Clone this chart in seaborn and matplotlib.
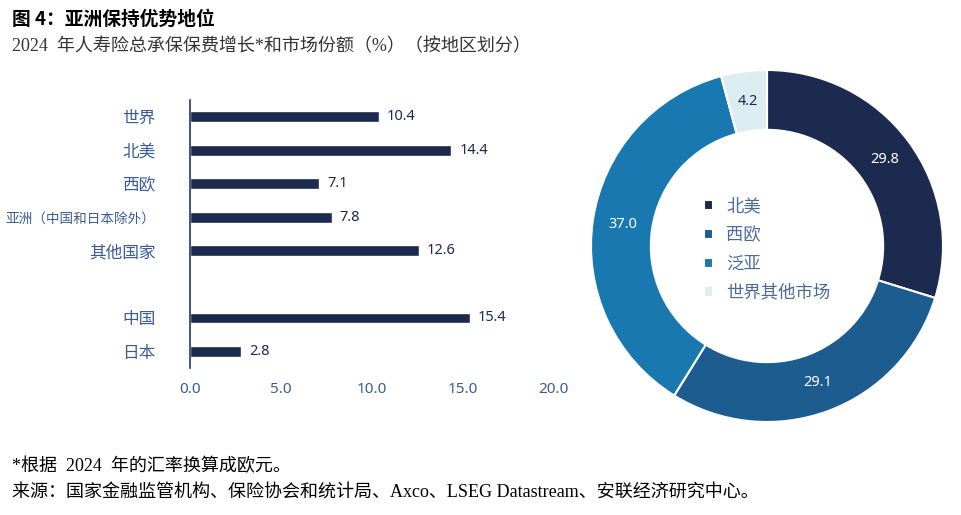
import numpy as np
import pandas as pd
import matplotlib.pyplot as plt
import seaborn as sns

# data
regions = ['世界', '北美', '西欧', '亚洲（中国和日本除外）', '其他国家', '中国', '日本']
growth = [10.4, 14.4, 7.1, 7.8, 12.6, 15.4, 2.8]
share_labels = ['北美', '西欧', '泛亚', '世界其他市场']
share = [29.8, 29.1, 37.0, 4.2]

navy = '#1b2a4e'
share_colors = ['#1b2a4e', '#1d5c8f', '#1a78b0', '#dcedf2']
label_blue = '#3b5c92'

sns.set_theme(style='white')
plt.rcParams['font.family'] = ['Noto Sans CJK SC', 'DejaVu Sans']
plt.rcParams['axes.unicode_minus'] = False

fig = plt.figure(figsize=(9.62, 5.15), dpi=100)

# ---- bar chart ----
ax = fig.add_axes([0.1975, 0.285, 0.3775, 0.521])
df = pd.DataFrame({'region': regions, 'growth': growth})
order = regions[:5] + [' '] + regions[5:]  # blank slot between groups
sns.barplot(data=df, x='growth', y='region', order=order, orient='h',
            color=navy, width=0.32, saturation=1, ax=ax)
for i, r in enumerate(order):
    if r in regions:
        v = growth[regions.index(r)]
        ax.text(v + 0.45, i, f'{v:.1f}', va='center', ha='left',
                fontsize=10.5, color=navy, family=['Noto Sans', 'DejaVu Sans'])
ax.set_xlim(0, 20)
ax.set_xticks(np.arange(0, 21, 5))
ax.set_xticklabels([f'{t:.1f}' for t in np.arange(0, 21, 5)],
                   family=['Noto Sans', 'DejaVu Sans'])
ax.set_xlabel('')
ax.set_ylabel('')
for s in ['top', 'right', 'bottom']:
    ax.spines[s].set_visible(False)
ax.spines['left'].set_color('#1f3a6a')
ax.spines['left'].set_linewidth(1.2)
ax.tick_params(axis='y', length=0, pad=25, labelsize=12, labelcolor=label_blue)
ax.tick_params(axis='x', length=0, pad=10, labelsize=11, labelcolor=label_blue)
# the long label is a little smaller so it stays on the canvas
for lab in ax.get_yticklabels():
    if len(lab.get_text()) > 6:
        lab.set_fontsize(9.8)

# ---- donut ----
ax2 = fig.add_axes([0.6143, 0.1806, 0.366, 0.6835])
wedges, texts, autotexts = ax2.pie(
    share, colors=share_colors, startangle=90, counterclock=False,
    wedgeprops=dict(width=0.34, edgecolor='white', linewidth=1.5),
    autopct=lambda p: '', pctdistance=0.83)
for t, v, c in zip(autotexts, share, ['white', 'white', 'white', navy]):
    t.set_text(f'{v:.1f}')
    t.set_color(c)
    t.set_fontsize(10.5)
    t.set_family(['Noto Sans', 'DejaVu Sans'])
ax2.set_xlim(-1, 1)
ax2.set_ylim(-1, 1)
leg = ax2.legend(wedges, share_labels, loc='center', bbox_to_anchor=(0.5, 0.49),
                 frameon=False, fontsize=12.5, handlelength=0.55, handleheight=0.55,
                 labelspacing=0.62, handletextpad=0.75)
for t in leg.get_texts():
    t.set_color('#4a6a9a')

# ---- texts ----
serif = ['Liberation Serif', 'Noto Sans CJK SC']
fig.text(0.012, 0.962, '图 4：亚洲保持优势地位', fontsize=13.5, fontweight='bold',
         va='center', ha='left', color='black')
fig.text(0.012, 0.91, '2024  年人寿险总承保保费增长*和市场份额（%）（按地区划分）',
         fontsize=13, va='center', ha='left', color='#333333', family=serif)
fig.text(0.012, 0.095, '*根据  2024  年的汇率换算成欧元。', fontsize=13,
         va='center', ha='left', color='black', family=serif)
fig.text(0.012, 0.045, '来源：国家金融监管机构、保险协会和统计局、Axco、LSEG Datastream、安联经济研究中心。',
         fontsize=13, va='center', ha='left', color='black', family=serif)

fig.savefig('out.png', dpi=100)
